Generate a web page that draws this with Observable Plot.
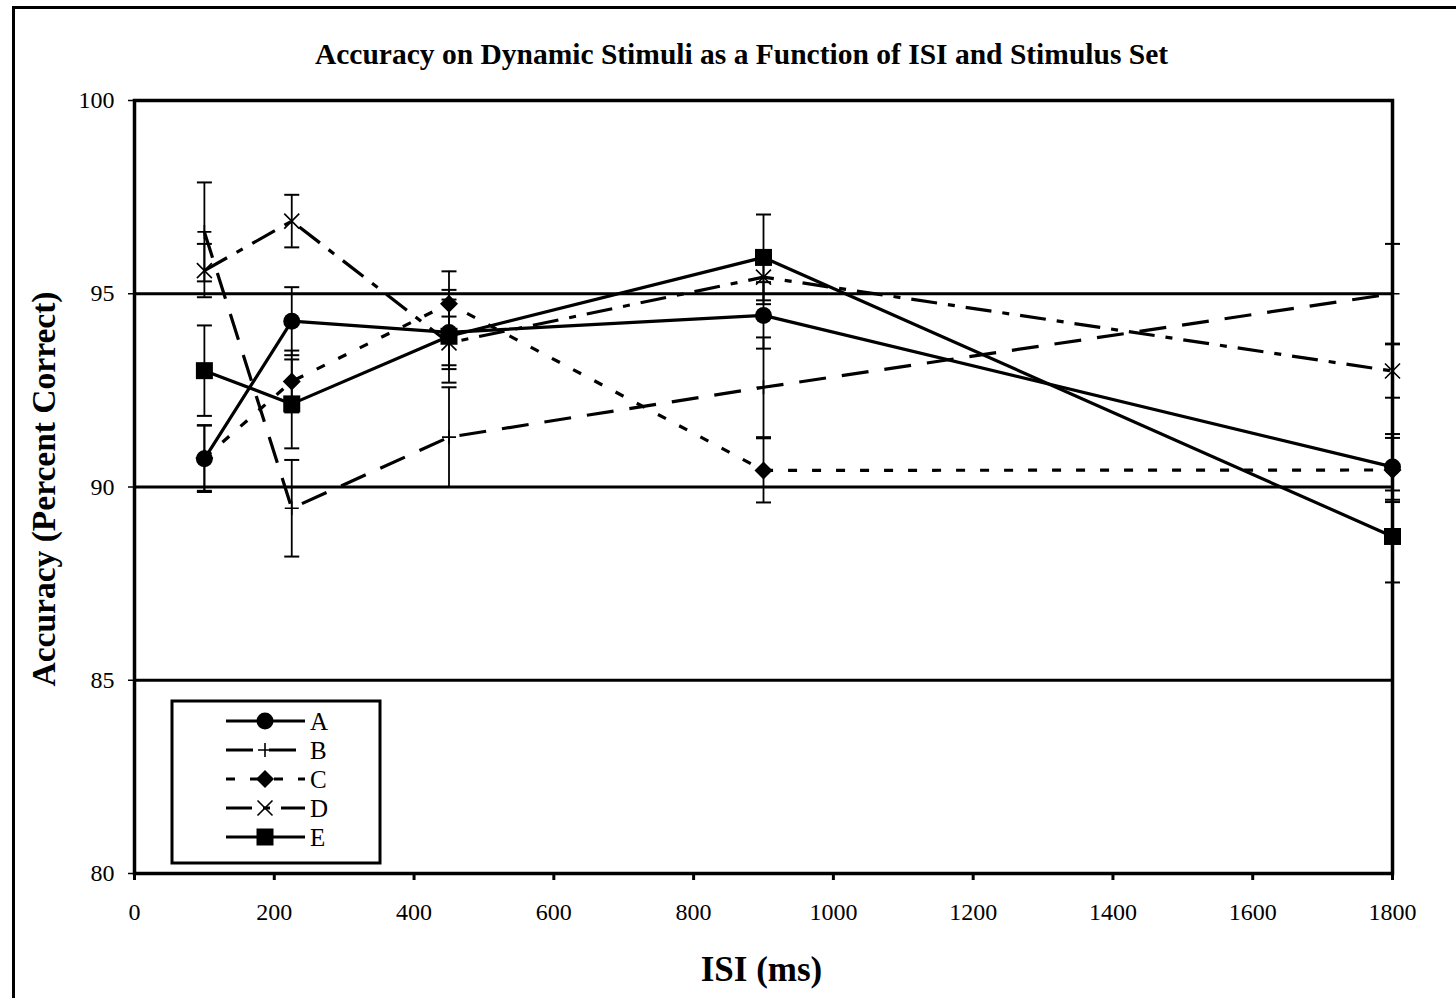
<!DOCTYPE html>
<html>
<head>
<meta charset="utf-8">
<script src="https://cdn.jsdelivr.net/npm/d3@7"></script>
<script src="https://cdn.jsdelivr.net/npm/@observablehq/plot@0.6"></script>
<style>
  html, body { margin: 0; padding: 0; background: #fff; overflow: hidden; }
  #page { position: relative; width: 1456px; height: 998px; overflow: hidden; }
  #outer { position: absolute; left: 12px; top: 6px; width: 2000px; height: 2000px; border: 3px solid #000; box-sizing: border-box; }
  #chart { position: absolute; left: 0; top: 0; }
  #legend { position: absolute; left: 170px; top: 699px; }
</style>
</head>
<body>
<div id="page">
  <div id="outer"></div>
  <div id="chart"></div>
  <div id="legend"></div>
</div>
<script>
// ---- data ----
const isi = [100, 225, 450, 900, 1800];
const seriesNames = ["A", "B", "C", "D", "E"];
const meanA = [90.73, 94.29, 94.00, 94.44, 90.52];
const meanB = [96.60, 89.45, 91.29, 92.58, 95.00];
const meanC = [90.75, 92.73, 94.74, 90.43, 90.44];
const meanD = [95.60, 96.88, 93.73, 95.43, 93.00];
const meanE = [93.01, 92.15, 93.90, 95.94, 88.72];
const errA = [0.86, 0.88, 0.85, 0.86, 0.85];
const errB = [1.28, 1.25, 1.29, 1.29, 1.29];
const errC = [0.85, 0.80, 0.84, 0.83, 0.83];
const errD = [0.69, 0.68, 0.68, 0.70, 0.69];
const errE = [1.17, 1.15, 1.20, 1.11, 1.19];
const xTicks = [0, 200, 400, 600, 800, 1000, 1200, 1400, 1600, 1800];
const yTicks = [80, 85, 90, 95, 100];
const gridValues = [85, 90, 95];
const titleText = "Accuracy on Dynamic Stimuli as a Function of ISI and Stimulus Set";
const xLabel = "ISI (ms)";
const yLabel = "Accuracy (Percent Correct)";

const means = [meanA, meanB, meanC, meanD, meanE];
const errs = [errA, errB, errC, errD, errE];

// ---- symbols ----
const symCircle = {draw(c, s) { const r = Math.sqrt(s / Math.PI); c.moveTo(r, 0); c.arc(0, 0, r, 0, 2 * Math.PI); }};
const symSquare = {draw(c, s) { const r = Math.sqrt(s / Math.PI); c.rect(-r, -r, 2 * r, 2 * r); }};
const symDiamond = {draw(c, s) { const r = Math.sqrt(s / Math.PI); c.moveTo(0, -r); c.lineTo(r, 0); c.lineTo(0, r); c.lineTo(-r, 0); c.closePath(); }};
const symTimes = {draw(c, s) { const r = Math.sqrt(s / Math.PI); c.moveTo(-r, -r); c.lineTo(r, r); c.moveTo(-r, r); c.lineTo(r, -r); }};
const symPlus = {draw(c, s) { const r = Math.sqrt(s / Math.PI); c.moveTo(-r, 0); c.lineTo(r, 0); c.moveTo(0, -r); c.lineTo(0, r); }};
const symCap = {draw(c, s) { const r = Math.sqrt(s / Math.PI); c.moveTo(-r, 0); c.lineTo(r, 0); }};

const styles = {
  A: {dash: null, symbol: symCircle, r: 8.5, filled: true},
  B: {dash: "27,16", symbol: symPlus, r: 7, filled: false},
  C: {dash: "9,15", symbol: symDiamond, r: 9, filled: true},
  D: {dash: "26,11,7,11", symbol: symTimes, r: 7.5, filled: false},
  E: {dash: null, symbol: symSquare, r: 8.5, filled: true}
};

const rows = [];
seriesNames.forEach((s, i) => {
  isi.forEach((x, j) => rows.push({series: s, isi: x, value: means[i][j], err: errs[i][j]}));
});

const marks = [
  Plot.ruleY(gridValues, {stroke: "#000", strokeWidth: 3}),
  Plot.ruleX(rows, {x: "isi", y1: d => d.value - d.err, y2: d => d.value + d.err, stroke: "#000", strokeWidth: 1.8}),
  Plot.dot(rows, {x: "isi", y: d => d.value + d.err, symbol: symCap, r: 7.5, stroke: "#000", strokeWidth: 2, fill: "none"}),
  Plot.dot(rows, {x: "isi", y: d => d.value - d.err, symbol: symCap, r: 7.5, stroke: "#000", strokeWidth: 2, fill: "none"})
];
seriesNames.forEach(s => {
  const st = styles[s];
  const data = rows.filter(d => d.series === s);
  marks.push(Plot.line(data, {x: "isi", y: "value", stroke: "#000", strokeWidth: 3.2, strokeDasharray: st.dash || undefined, strokeLinecap: "butt"}));
});
seriesNames.forEach(s => {
  const st = styles[s];
  const data = rows.filter(d => d.series === s);
  if (st.filled) marks.push(Plot.dot(data, {x: "isi", y: "value", symbol: st.symbol, r: st.r, fill: "#000", stroke: "none"}));
  else marks.push(Plot.dot(data, {x: "isi", y: "value", symbol: st.symbol, r: st.r, fill: "none", stroke: "#000", strokeWidth: 1.6}));
});
marks.push(
  Plot.frame({stroke: "#000", strokeWidth: 3.5}),
  Plot.axisX({ticks: xTicks, tickSize: 7, tickPadding: 22, strokeWidth: 3, fontSize: 24, tickFormat: d => String(d), label: null}),
  Plot.axisY({ticks: yTicks, tickSize: 6, tickPadding: 14, strokeWidth: 1.5, fontSize: 24, tickFormat: d => String(d), label: null}),
  Plot.text([titleText], {frameAnchor: "top", dx: -22, dy: -46, lineAnchor: "middle", fontWeight: "bold", fontSize: 29.5, fill: "#000"}),
  Plot.text([yLabel], {frameAnchor: "left", dx: -90, dy: 2, rotate: -90, lineAnchor: "middle", textAnchor: "middle", fontWeight: "bold", fontSize: 33.5, fill: "#000"}),
  Plot.text([xLabel], {frameAnchor: "bottom", dx: -2, dy: 96, lineAnchor: "middle", fontWeight: "bold", fontSize: 35, fill: "#000"})
);

const chart = Plot.plot({
  width: 1456,
  height: 998,
  marginLeft: 134,
  marginRight: 64,
  marginTop: 100,
  marginBottom: 125,
  x: {domain: [0, 1800]},
  y: {domain: [80, 100]},
  style: {fontFamily: "'Liberation Serif', 'DejaVu Serif', serif", background: "transparent", color: "#000", overflow: "visible"},
  marks
});
document.getElementById("chart").appendChild(chart);

// ---- legend ----
const lw = 212, lh = 166;
const lg = d3.select("#legend").append("svg").attr("width", lw).attr("height", lh);
lg.append("rect").attr("x", 2).attr("y", 2).attr("width", lw - 4).attr("height", lh - 4)
  .attr("fill", "#fff").attr("stroke", "#000").attr("stroke-width", 3);
const rowY = [22, 51, 80, 109, 138];
seriesNames.forEach((s, i) => {
  const st = styles[s];
  const y = rowY[i];
  lg.append("line").attr("x1", 56).attr("x2", 135).attr("y1", y).attr("y2", y)
    .attr("stroke", "#000").attr("stroke-width", 3.2)
    .attr("stroke-dasharray", st.dash || null);
  const path = d3.path();
  st.symbol.draw(path, Math.PI * st.r * st.r);
  lg.append("path").attr("d", path.toString()).attr("transform", `translate(95,${y})`)
    .attr("fill", st.filled ? "#000" : "none").attr("stroke", st.filled ? "none" : "#000").attr("stroke-width", 1.6);
  lg.append("text").attr("x", 140).attr("y", y).attr("dy", "0.35em")
    .attr("font-family", "'Liberation Serif', serif").attr("font-size", 25).text(s);
});
</script>
</body>
</html>
